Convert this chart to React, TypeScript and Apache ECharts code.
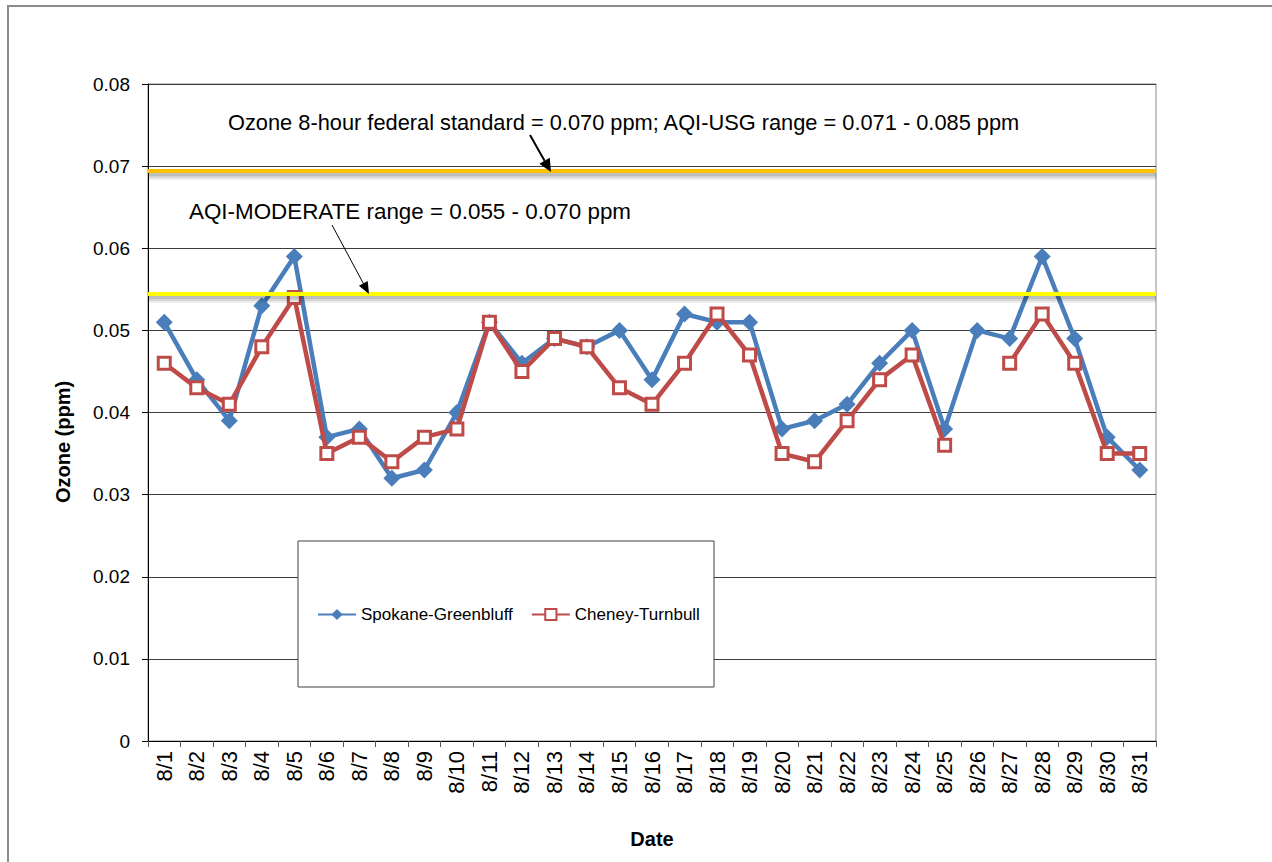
import React, { useEffect, useRef } from "react";
import * as echarts from "echarts";

const dates = [
  "8/1", "8/2", "8/3", "8/4", "8/5", "8/6", "8/7", "8/8", "8/9", "8/10",
  "8/11", "8/12", "8/13", "8/14", "8/15", "8/16", "8/17", "8/18", "8/19", "8/20",
  "8/21", "8/22", "8/23", "8/24", "8/25", "8/26", "8/27", "8/28", "8/29", "8/30", "8/31",
];

const spokaneGreenbluff = [
  0.051, 0.044, 0.039, 0.053, 0.059, 0.037, 0.038, 0.032, 0.033, 0.040,
  0.051, 0.046, 0.049, 0.048, 0.050, 0.044, 0.052, 0.051, 0.051, 0.038,
  0.039, 0.041, 0.046, 0.050, 0.038, 0.050, 0.049, 0.059, 0.049, 0.037, 0.033,
];

const cheneyTurnbull = [
  0.046, 0.043, 0.041, 0.048, 0.054, 0.035, 0.037, 0.034, 0.037, 0.038,
  0.051, 0.045, 0.049, 0.048, 0.043, 0.041, 0.046, 0.052, 0.047, 0.035,
  0.034, 0.039, 0.044, 0.047, 0.036, null, 0.046, 0.052, 0.046, 0.035, 0.035,
];

const seriesNames = ["Spokane-Greenbluff", "Cheney-Turnbull"];
const standardLine = 0.0694;
const moderateLine = 0.0544;

const annotationUSG =
  "Ozone 8-hour federal standard = 0.070 ppm; AQI-USG range = 0.071 - 0.085 ppm";
const annotationModerate = "AQI-MODERATE range = 0.055 - 0.070 ppm";

const FONT = "'Liberation Sans', Arial, Helvetica, sans-serif";

function arrow(x1: number, y1: number, x2: number, y2: number, lw: number, headLen: number, headHalf: number) {
  const dx = x2 - x1;
  const dy = y2 - y1;
  const len = Math.sqrt(dx * dx + dy * dy);
  const ux = dx / len;
  const uy = dy / len;
  const bx = x2 - ux * headLen;
  const by = y2 - uy * headLen;
  const px = -uy * headHalf;
  const py = ux * headHalf;
  return [
    {
      type: "line",
      z: 10,
      silent: true,
      shape: { x1, y1, x2: bx, y2: by },
      style: { stroke: "#000", lineWidth: lw },
    },
    {
      type: "polygon",
      z: 10,
      silent: true,
      shape: { points: [[x2, y2], [bx + px, by + py], [bx - px, by - py]] },
      style: { fill: "#000" },
    },
  ];
}

// soft grey "shadow" bands drawn just under each reference line (value offsets ≈ pixels)
const PX = 0.08 / 657;
function refLineWithShadow(value: number, color: string) {
  return [
    { yAxis: value - 5 * PX, lineStyle: { color: "rgba(0,0,0,0.07)", width: 8, type: "solid" } },
    { yAxis: value - 4 * PX, lineStyle: { color: "rgba(0,0,0,0.10)", width: 5, type: "solid" } },
    { yAxis: value - 3 * PX, lineStyle: { color: "rgba(0,0,0,0.10)", width: 3, type: "solid" } },
    { yAxis: value, lineStyle: { color, width: 4, type: "solid" } },
  ];
}

export default function App() {
  const ref = useRef<HTMLDivElement>(null);

  useEffect(() => {
    if (!ref.current) return;
    const chart = echarts.init(ref.current, undefined, { renderer: "svg" });
    const option: any = {
      animation: false,
      backgroundColor: "#fff",
      textStyle: { fontFamily: FONT },
      grid: {
        left: 148,
        right: 116,
        top: 84,
        bottom: 121,
        show: true,
        borderColor: "#8a8a8a",
        borderWidth: 1,
        backgroundColor: "transparent",
      },
      legend: {
        data: seriesNames,
        left: 317,
        top: 606,
        padding: 0,
        itemWidth: 38,
        itemHeight: 14,
        itemGap: 18,
        z: 5,
        textStyle: { fontFamily: FONT, fontSize: 17, color: "#000" },
      },
      xAxis: {
        type: "category",
        data: dates,
        boundaryGap: true,
        name: "Date",
        nameLocation: "middle",
        nameGap: 88,
        nameTextStyle: { fontFamily: FONT, fontSize: 20, fontWeight: "bold", color: "#000" },
        axisLine: { lineStyle: { color: "#000", width: 1 } },
        axisTick: { show: true, alignWithLabel: false, interval: 0, length: 6, lineStyle: { color: "#555" } },
        axisLabel: {
          interval: 0,
          rotate: 90,
          margin: 10,
          fontFamily: FONT,
          fontSize: 22,
          color: "#000",
        },
        splitLine: { show: false },
      },
      yAxis: {
        type: "value",
        min: 0,
        max: 0.08,
        interval: 0.01,
        axisLine: { show: true, lineStyle: { color: "#000", width: 1 } },
        axisTick: { show: true, length: 6, lineStyle: { color: "#000" } },
        axisLabel: {
          margin: 18,
          fontFamily: FONT,
          fontSize: 19,
          color: "#000",
          formatter: (v: number) => (v === 0 ? "0" : v.toFixed(2)),
        },
        splitLine: { show: true, lineStyle: { color: "#3c3c3c", width: 1 } },
      },
      series: [
        {
          name: "reference",
          type: "line",
          data: dates.map(() => null),
          z: 1,
          silent: true,
          symbol: "none",
          markLine: {
            silent: true,
            precision: 8,
            symbol: ["none", "none"],
            label: { show: false },
            data: [
              ...refLineWithShadow(standardLine, "#FFC000"),
              ...refLineWithShadow(moderateLine, "#FFFF00"),
            ],
          },
        },
        {
          name: seriesNames[0],
          type: "line",
          data: spokaneGreenbluff,
          z: 3,
          symbol: "diamond",
          symbolSize: 17,
          showAllSymbol: true,
          lineStyle: { color: "#4A7EBB", width: 4.5 },
          itemStyle: { color: "#4A7EBB" },
        },
        {
          name: seriesNames[1],
          type: "line",
          data: cheneyTurnbull,
          z: 4,
          connectNulls: false,
          symbol: "rect",
          symbolSize: 12,
          showAllSymbol: true,
          lineStyle: { color: "#BE4B48", width: 4.5 },
          itemStyle: { color: "#ffffff", borderColor: "#BE4B48", borderWidth: 3 },
        },
      ],
      graphic: [
        {
          type: "rect",
          z: -1,
          silent: true,
          shape: { x: 8, y: 6, width: 1300, height: 900 },
          style: { fill: "none", stroke: "#8c8c8c", lineWidth: 2 },
        },
        {
          type: "rect",
          z: 3,
          silent: true,
          shape: { x: 298, y: 541, width: 416, height: 146 },
          style: { fill: "#ffffff", stroke: "#404040", lineWidth: 1 },
        },
        {
          type: "text",
          z: 10,
          silent: true,
          x: 228,
          y: 122,
          style: {
            text: annotationUSG,
            font: `21.8px ${FONT}`,
            fill: "#000",
            align: "left",
            verticalAlign: "middle",
            textAlign: "left",
            textVerticalAlign: "middle",
          },
        },
        {
          type: "text",
          z: 10,
          silent: true,
          x: 189,
          y: 211,
          style: {
            text: annotationModerate,
            font: `22.4px ${FONT}`,
            fill: "#000",
            align: "left",
            verticalAlign: "middle",
            textAlign: "left",
            textVerticalAlign: "middle",
          },
        },
        {
          type: "text",
          z: 10,
          silent: true,
          x: 63,
          y: 442,
          rotation: Math.PI / 2,
          style: {
            text: "Ozone (ppm)",
            font: `bold 20px ${FONT}`,
            fill: "#000",
            align: "center",
            verticalAlign: "middle",
            textAlign: "center",
            textVerticalAlign: "middle",
          },
        },
        ...arrow(530, 135, 551, 172, 2, 13, 6),
        ...arrow(332, 225, 369, 294, 1, 12, 5),
      ],
    };
    chart.setOption(option);
    return () => chart.dispose();
  }, []);

  return (
    <div
      ref={ref}
      style={{ position: "absolute", left: 0, top: 0, width: 1272, height: 862 }}
    />
  );
}
